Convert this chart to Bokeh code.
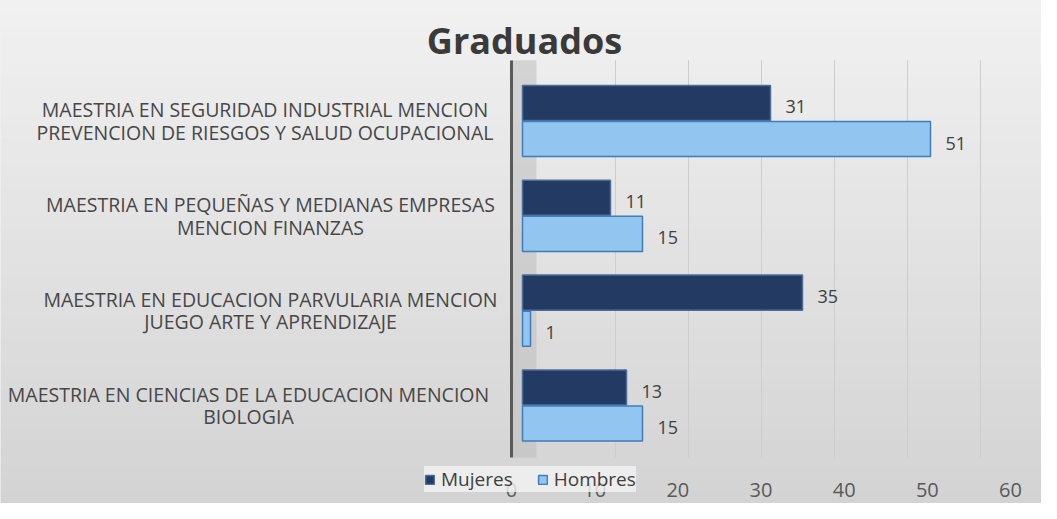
from bokeh.plotting import figure
from bokeh.models import (ColumnDataSource, Label, BoxAnnotation, FixedTicker,
                          LinearAxis, Range1d)
from bokeh.core.properties import value
from bokeh.transform import dodge
from bokeh.embed import file_html
from bokeh.resources import INLINE

# ---- data ----
categories = [
    "MAESTRIA EN SEGURIDAD INDUSTRIAL MENCION\nPREVENCION DE RIESGOS Y SALUD OCUPACIONAL",
    "MAESTRIA EN PEQUEÑAS Y MEDIANAS EMPRESAS\nMENCION FINANZAS",
    "MAESTRIA EN EDUCACION PARVULARIA MENCION\nJUEGO ARTE Y APRENDIZAJE",
    "MAESTRIA EN CIENCIAS DE LA EDUCACION MENCION\nBIOLOGIA",
]
mujeres = [31, 11, 35, 13]
hombres = [51, 15, 1, 15]
x_ticks = [0, 10, 20, 30, 40, 50, 60]
series_names = ["Mujeres", "Hombres"]
title_text = "Graduados"

FONT = "Open Sans"
TXT = "#404040"
n = len(categories)
ypos = [n - 1 - i for i in range(n)]  # first category at the top

# category label blocks: right edge next to the axis, lines centred inside
CHAR_W = 11.0
label_offsets = [-32 - max(len(s) for s in c.split("\n")) * CHAR_W / 2 for c in categories]

source = ColumnDataSource(dict(
    cat=categories,
    ypos=ypos,
    mujeres=mujeres,
    hombres=hombres,
    mujeres_lbl=[str(v) for v in mujeres],
    hombres_lbl=[str(v) for v in hombres],
    lbl_off=label_offsets,
))

W, H = 1041, 503
XMAX = x_ticks[-1]


def xrange_for(px0, pxmax):
    """Range so that 0 lands at canvas px0 and XMAX at canvas pxmax (3-D look)."""
    ppu = (pxmax - px0) / XMAX
    return Range1d(-px0 / ppu, XMAX + (W - pxmax) / ppu)


top_center_px, bot_center_px = 120.5, 405.0
ppy = (bot_center_px - top_center_px) / (n - 1)
y_start = -(H - bot_center_px) / ppy
y_end = (n - 1) + top_center_px / ppy

p = figure(
    width=W, height=H,
    x_range=xrange_for(522, 1002),                       # front face of bars
    y_range=Range1d(y_start, y_end),
    x_axis_location=None, y_axis_location=None,
    output_backend="svg", toolbar_location=None,
    min_border=0,
)
p.extra_x_ranges = {
    "front": xrange_for(511, 1010),   # floor edge where tick labels sit
    "wall": xrange_for(542, 980),     # back wall where grid lines sit
}
p.background_fill_color = "#e2e2e2"
p.border_fill_color = "#e2e2e2"
p.outline_line_color = None
p.xgrid.visible = False
p.ygrid.visible = False

# soft vertical background gradient (light at top, darker at the bottom)
BANDS = 40
top_rgb, bot_rgb = 241, 211
for i in range(BANDS):
    f = (i + 0.5) / BANDS
    g = int(round(top_rgb + (bot_rgb - top_rgb) * f))
    hi = y_end - (y_end - y_start) * i / BANDS
    lo = y_end - (y_end - y_start) * (i + 1) / BANDS
    p.add_layout(BoxAnnotation(top=hi, bottom=lo - 0.01,
                               fill_color=f"#{g:02x}{g:02x}{g:02x}", fill_alpha=1,
                               line_color=None, level="underlay"))

y_lo, y_hi = -0.55, (n - 1) + 0.64

# 3D side wall
p.add_layout(BoxAnnotation(left=0, right=3, bottom=y_lo, top=y_hi,
                           x_range_name="front",
                           fill_color="#bdbdbd", fill_alpha=0.55,
                           line_color=None, level="underlay"))

# vertical grid lines on the back wall
p.segment(x0=x_ticks[1:], x1=x_ticks[1:], y0=y_lo, y1=y_hi, x_range_name="wall",
          line_color="#cdcdcd", line_width=1)

p.hbar(y=dodge("ypos", 0.19), right="mujeres", left=0, height=0.37,
       source=source, fill_color="#233b62", line_color="#4d6c9c", line_width=1.5,
       legend_label=series_names[0])
p.hbar(y=dodge("ypos", -0.19), right="hombres", left=0, height=0.37,
       source=source, fill_color="#92c5ef", line_color="#3f7dbd", line_width=1.5,
       legend_label=series_names[1])

for col, off in (("mujeres", 0.19), ("hombres", -0.19)):
    p.text(x=col, y=dodge("ypos", off), text=col + "_lbl", source=source,
           x_offset=15, y_offset=4, text_align="left", text_baseline="middle",
           text_font=value(FONT), text_font_size="18px", text_color=TXT)

# category labels
p.text(x=0, y="ypos", text="cat", source=source, x_offset="lbl_off",
       text_align="center", text_baseline="middle", text_font=value(FONT),
       text_font_size="19.5px", text_color="#474747", text_line_height=0.84)

# title
p.add_layout(Label(x=0, y=H - 39.5, x_units="data", y_units="screen", x_offset=2,
                   text=title_text, text_align="center", text_baseline="middle",
                   text_font=FONT, text_font_style="bold", text_font_size="36px",
                   text_color="#3a3a3a"))

# vertical axis line
yax = LinearAxis(fixed_location=0, bounds=(y_lo, y_hi), x_range_name="front")
yax.axis_line_color = "#5a5a5a"
yax.axis_line_width = 3
yax.major_tick_line_color = None
yax.minor_tick_line_color = None
yax.major_label_text_font_size = "0px"
yax.major_label_text_color = None
p.add_layout(yax, "left")

# x axis tick labels
xax = LinearAxis(fixed_location=y_lo, ticker=FixedTicker(ticks=x_ticks),
                 x_range_name="front")
xax.axis_line_color = None
xax.major_tick_line_color = None
xax.minor_tick_line_color = None
xax.major_label_text_font = FONT
xax.major_label_text_font_size = "20px"
xax.major_label_text_color = "#595959"
xax.major_label_standoff = 19
p.add_layout(xax, "below")

lg = p.legend[0]
lg.location = (424, 11)
lg.orientation = "horizontal"
lg.glyph_width = 11
lg.glyph_height = 11
lg.label_text_font = FONT
lg.label_text_font_size = "19px"
lg.label_text_color = TXT
lg.label_standoff = 6
lg.spacing = 24
lg.padding = 12
lg.margin = 12
lg.background_fill_color = "#f2f2f2"
lg.background_fill_alpha = 0.8
lg.border_line_color = None

open("out.html", "w").write(file_html(p, INLINE))
